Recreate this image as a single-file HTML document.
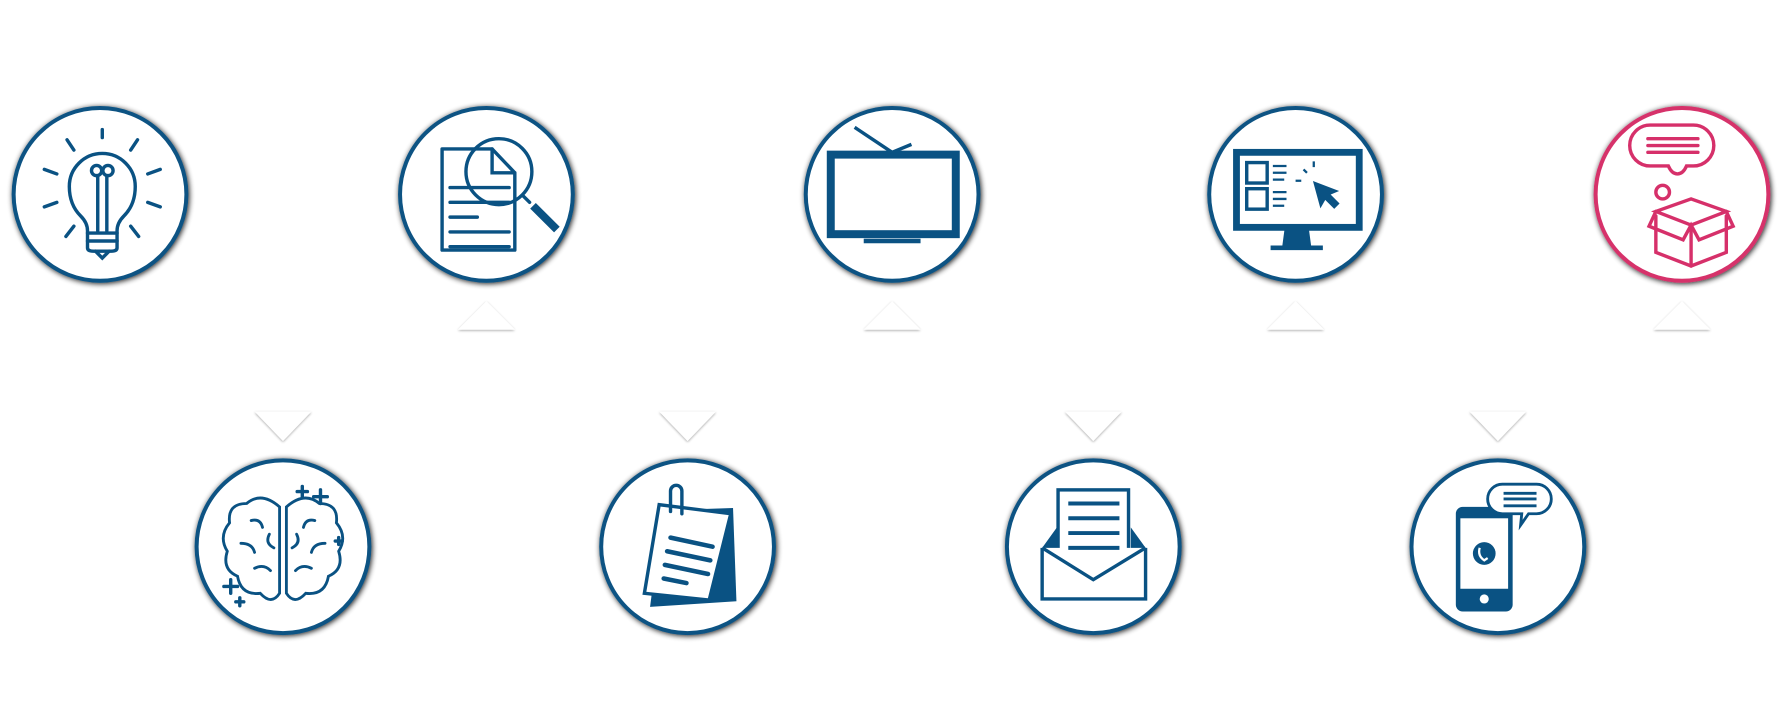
<!DOCTYPE html>
<html><head><meta charset="utf-8"><style>html,body{margin:0;padding:0;background:#fff}svg{display:block}</style></head><body>
<svg width="1782" height="707" viewBox="0 0 1568 622" xmlns="http://www.w3.org/2000/svg">
<defs>
<filter id="sh" x="-20%" y="-20%" width="140%" height="140%"><feGaussianBlur in="SourceAlpha" stdDeviation="2.5"/><feOffset dx="1" dy="1"/><feComponentTransfer><feFuncA type="linear" slope="0.9"/></feComponentTransfer><feMerge><feMergeNode/><feMergeNode in="SourceGraphic"/></feMerge></filter>
<filter id="ts"><feGaussianBlur in="SourceAlpha" stdDeviation="1.2"/><feOffset dy="1"/><feComponentTransfer><feFuncA type="linear" slope="0.35"/></feComponentTransfer><feMerge><feMergeNode/><feMergeNode in="SourceGraphic"/></feMerge></filter>
</defs>
<g fill="#fff" stroke-width="3.5">
<circle cx="88" cy="171" r="76" stroke="#0a5283" filter="url(#sh)"/>
<circle cx="428" cy="171" r="76" stroke="#0a5283" filter="url(#sh)"/>
<circle cx="785" cy="171" r="76" stroke="#0a5283" filter="url(#sh)"/>
<circle cx="1140" cy="171" r="76" stroke="#0a5283" filter="url(#sh)"/>
<circle cx="1480" cy="171" r="76" stroke="#d6306a" filter="url(#sh)"/>
<circle cx="249" cy="481" r="76" stroke="#0a5283" filter="url(#sh)"/>
<circle cx="605" cy="481" r="76" stroke="#0a5283" filter="url(#sh)"/>
<circle cx="962" cy="481" r="76" stroke="#0a5283" filter="url(#sh)"/>
<circle cx="1318" cy="481" r="76" stroke="#0a5283" filter="url(#sh)"/>
</g>
<g fill="#fff" filter="url(#ts)">
<polygon points="428,265 403,290 453,290"/>
<polygon points="785,265 760,290 810,290"/>
<polygon points="1140,265 1115,290 1165,290"/>
<polygon points="1480,265 1455,290 1505,290"/>
<polygon points="249,388 224,362 274,362"/>
<polygon points="605,388 580,362 630,362"/>
<polygon points="962,388 937,362 987,362"/>
<polygon points="1318,388 1293,362 1343,362"/>
</g>
<!-- bulb -->
<g stroke="#0a5283" stroke-width="3" fill="none" stroke-linecap="round">
<line x1="90" y1="114" x2="90" y2="121"/>
<line x1="59" y1="123" x2="65" y2="132"/><line x1="121" y1="123" x2="115" y2="132"/>
<line x1="39" y1="149" x2="50" y2="153"/><line x1="141" y1="149" x2="130" y2="153"/>
<line x1="39" y1="182" x2="50" y2="178"/><line x1="141" y1="182" x2="130" y2="178"/>
<line x1="58" y1="208" x2="65" y2="199"/><line x1="122" y1="208" x2="115" y2="199"/>
<path d="M77 218 L77 203 Q77 196 71 190 Q61 180 61 164 A29 29 0 1 1 119 164 Q119 180 109 190 Q103 196 103 203 L103 218 Q103 221 98 221 L82 221 Q77 221 77 218Z"/>
<line x1="77" y1="205" x2="103" y2="205"/><line x1="77" y1="212" x2="103" y2="212"/>
<path d="M86 203 V155 M94 203 V155"/><circle cx="85" cy="150" r="4.5"/><circle cx="95" cy="150" r="4.5"/>
<path d="M84 221 L90 227 L96 221"/>
</g>
<!-- doc search -->
<g stroke="#0a5283" stroke-width="3" fill="none" stroke-linecap="round">
<path d="M389 131 H433 L453 152 V220 H389Z" stroke-linejoin="round"/><path d="M433 131 V152 H453"/>
<line x1="396" y1="165" x2="448" y2="165"/><line x1="396" y1="178" x2="448" y2="178"/><line x1="396" y1="191" x2="420" y2="191"/>
<line x1="396" y1="204" x2="448" y2="204"/><line x1="396" y1="217" x2="448" y2="217"/>
<circle cx="439" cy="151" r="29"/>
<line x1="460" y1="172" x2="466" y2="178"/>
<line x1="469" y1="181" x2="490" y2="202" stroke-width="7" stroke-linecap="butt"/>
</g>
<!-- TV -->
<g stroke="#0a5283" fill="none">
<rect x="731" y="136" width="110" height="70" stroke-width="7"/>
<line x1="752" y1="112" x2="785" y2="134" stroke-width="3"/><line x1="802" y1="127" x2="785" y2="134" stroke-width="3"/>
<rect x="760" y="210" width="50" height="4" fill="#0a5283" stroke="none"/>
</g>
<!-- monitor -->
<g stroke="#0a5283" fill="none" stroke-width="3">
<rect x="1088" y="134" width="108" height="66" stroke-width="6"/>
<path d="M1132 200 L1130 215 H1152 L1150 200" fill="#0a5283"/>
<line x1="1118" y1="218" x2="1164" y2="218" stroke-width="4"/>
<rect x="1097" y="143" width="18" height="18"/><rect x="1097" y="166" width="18" height="18"/>
<path d="M1120 146 h12 M1120 152 h12 M1120 158 h10 M1120 169 h12 M1120 175 h12 M1120 181 h10" stroke-width="2"/>
<path d="M1156 160 L1162 182 L1166 175 L1174 183 L1178 179 L1170 171 L1177 168Z" fill="#0a5283" stroke-width="1"/>
<path d="M1150 152 l-3 -3 M1156 147 v-5 M1145 159 h-5" stroke-width="2"/>
</g>
<!-- pink -->
<g stroke="#d6306a" stroke-width="3" fill="none" stroke-linecap="round">
<path d="M1452 110 H1490 A18 18 0 0 1 1490 146 H1484 Q1481 153 1476 153 Q1471 153 1468 146 H1452 A18 18 0 0 1 1452 110Z"/>
<line x1="1450" y1="122" x2="1494" y2="122"/><line x1="1450" y1="128" x2="1494" y2="128"/><line x1="1450" y1="134" x2="1494" y2="134"/>
<circle cx="1463" cy="169" r="6"/>
<path d="M1457 190 V222 L1488 234 L1519 222 V190"/><line x1="1488" y1="200" x2="1488" y2="234"/>
<path d="M1457 186 L1488 175 L1519 186 L1488 198Z"/>
<path d="M1457 186 L1451 199 L1481 211 L1488 198 L1495 211 L1525 199 L1519 186"/>
</g>
<!-- brain -->
<g stroke="#0a5283" stroke-width="2.5" fill="none" stroke-linecap="round">
<path d="M246 446 Q230 432 217 443 Q200 443 202 460 Q192 472 200 485 Q195 501 209 507 Q212 524 229 522 Q239 533 246 522Z"/>
<path d="M252 446 Q268 432 281 443 Q298 443 296 460 Q306 472 298 485 Q303 501 289 507 Q286 524 269 522 Q259 533 252 522Z"/>
<path d="M221 458 q8 -2 10 6 M212 478 q10 0 12 8 M224 500 q8 -4 14 2 M237 470 q-4 8 4 12 M277 458 q-8 -2 -10 6 M286 478 q-10 0 -12 8 M274 500 q-8 -4 -14 2 M261 470 q4 8 -4 12"/>
<path d="M266 428 v9 M261.5 432.5 h9 M282 431 v12 M276 437 h12 M203 510 v12 M197 516 h12 M211 526 v7 M207.5 529.5 h7 M298 473 v6 M295 476 h6" stroke-width="3"/>
</g>
<!-- clipboard -->
<g stroke="#0a5283" fill="none" stroke-linecap="round">
<path d="M645 447 L648 529 L572 534 L583 449Z" fill="#0a5283" stroke="none"/>
<path d="M643 452 L624 528 L567 522 L580 444Z" fill="#fff" stroke-width="3"/>
<path d="M590 450 V432 a5 5 0 0 1 10 0 V452" stroke-width="3"/>
<path d="M590 473 L627 481 M587 485 L625 493 M585 497 L623 505 M584 509 L604 513" stroke-width="4"/>
</g>
<!-- envelope -->
<g stroke="#0a5283" fill="none">
<path d="M917 482 V527 H1008 V482" stroke-width="3"/>
<path d="M917 482 L930 464 V488 Z M1008 482 L995 464 V488Z" fill="#0a5283" stroke="none"/>
<rect x="931" y="431" width="62" height="56" fill="#fff" stroke-width="3"/>
<path d="M917 482 L962 510 L1008 482" fill="#fff" stroke-width="3"/>
<path d="M940 443 H985 M940 456 H985 M940 469 H985 M940 482 H985" stroke-width="3.5"/>
</g>
<!-- phone -->
<g stroke="#0a5283" fill="none">
<rect x="1281" y="446" width="50" height="92" rx="6" fill="#0a5283" stroke="none"/>
<rect x="1285" y="456" width="42" height="62" fill="#fff" stroke="none"/>
<circle cx="1306" cy="527" r="4" fill="#fff" stroke="none"/>
<circle cx="1306" cy="487" r="10" fill="#0a5283" stroke="none"/>
<path d="M1302 482 q-2 7 4 11 l3 -2" stroke="#fff" stroke-width="2"/>
<path d="M1322 426 H1352 A10 10 0 0 1 1352 452 H1345 L1338 462 L1339 452 H1322 A10 10 0 0 1 1322 426Z" fill="#fff" stroke-width="2.5"/>
<path d="M1323 434 H1352 M1323 439 H1352 M1323 445 H1352" stroke-width="2.5"/>
</g>
</svg>
</body></html>
